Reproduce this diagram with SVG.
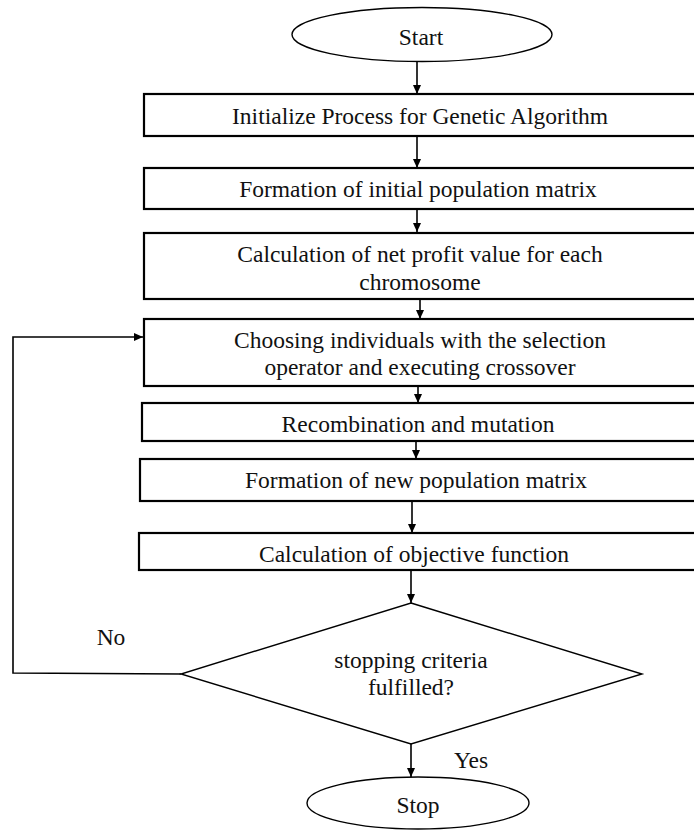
<svg xmlns="http://www.w3.org/2000/svg" width="694" height="831" viewBox="0 0 694 831">
<defs>
<marker id="ah" markerWidth="10" markerHeight="10" refX="9" refY="5" orient="auto" markerUnits="userSpaceOnUse">
<path d="M0,1 L9,5 L0,9 Z" fill="#000"/>
</marker>
<style>
.box{fill:#fff;stroke:#000;stroke-width:2.2}
.shp{fill:#fff;stroke:#000;stroke-width:1.4}
.t{font-family:"Liberation Serif","Times New Roman",serif;font-size:23.5px;fill:#111;text-anchor:middle}
.c{fill:none;stroke:#000;stroke-width:1.6}
</style>
</defs>
<rect width="694" height="831" fill="#fff"/>
<g id="connectors">
<line class="c" x1="417" y1="62" x2="417" y2="94" marker-end="url(#ah)"/>
<line class="c" x1="417" y1="136" x2="417" y2="168" marker-end="url(#ah)"/>
<line class="c" x1="417" y1="209" x2="417" y2="232" marker-end="url(#ah)"/>
<line class="c" x1="420" y1="299" x2="420" y2="319" marker-end="url(#ah)"/>
<line class="c" x1="418" y1="386" x2="418" y2="403" marker-end="url(#ah)"/>
<line class="c" x1="416" y1="441" x2="416" y2="459" marker-end="url(#ah)"/>
<line class="c" x1="412" y1="501" x2="412" y2="533" marker-end="url(#ah)"/>
<line class="c" x1="411" y1="570" x2="411" y2="603" marker-end="url(#ah)"/>
<line class="c" x1="411" y1="744" x2="411" y2="777" marker-end="url(#ah)"/>
<polyline class="c" points="181,674 13,673 13,337 143,337" marker-end="url(#ah)"/>
</g>
<g id="start">
<ellipse class="shp" cx="422" cy="34.5" rx="130" ry="27"/>
<text class="t" x="421" y="45">Start</text>
</g>
<g id="init">
<rect class="box" x="144" y="94" width="560" height="42"/>
<text class="t" x="420" y="124">Initialize Process for Genetic Algorithm</text>
</g>
<g id="initpop">
<rect class="box" x="144" y="168" width="560" height="41"/>
<text class="t" x="418" y="197">Formation of initial population matrix</text>
</g>
<g id="profit">
<rect class="box" x="144" y="233" width="560" height="66"/>
<text class="t" x="420" y="262">Calculation of net profit value for each</text>
<text class="t" x="420" y="290">chromosome</text>
</g>
<g id="select">
<rect class="box" x="144" y="319" width="560" height="67"/>
<text class="t" x="420" y="348">Choosing individuals with the selection</text>
<text class="t" x="420" y="375">operator and executing crossover</text>
</g>
<g id="recomb">
<rect class="box" x="142" y="403" width="560" height="38"/>
<text class="t" x="418" y="432">Recombination and mutation</text>
</g>
<g id="newpop">
<rect class="box" x="140" y="459" width="560" height="42"/>
<text class="t" x="416" y="488">Formation of new population matrix</text>
</g>
<g id="objective">
<rect class="box" x="139" y="533" width="560" height="37"/>
<text class="t" x="414" y="562">Calculation of objective function</text>
</g>
<g id="decision">
<polygon class="shp" points="411,603 642,674 411,744 181,674"/>
<text class="t" x="411" y="668">stopping criteria</text>
<text class="t" x="411" y="695">fulfilled?</text>
</g>
<g id="stop">
<ellipse class="shp" cx="418" cy="803" rx="111" ry="26"/>
<text class="t" x="418" y="813">Stop</text>
</g>
<g id="labels">
<text class="t" x="111" y="645">No</text>
<text class="t" x="471" y="768">Yes</text>
</g>
</svg>
